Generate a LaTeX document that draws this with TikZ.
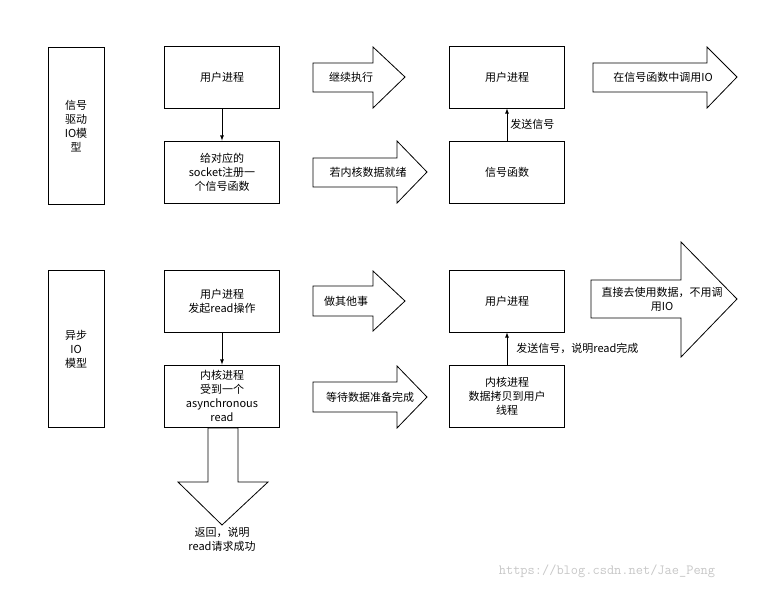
\documentclass[tikz,border=0pt]{standalone}
\usepackage{fontspec}
\setmainfont{Noto Sans CJK SC}
\begin{document}
\begin{tikzpicture}[x=1pt,y=-1pt,
  box/.style={draw,thick,minimum width=115pt,minimum height=62pt,align=center,inner sep=1pt,font=\fontsize{11}{14}\selectfont},
  side/.style={draw,thick,minimum width=56pt,minimum height=157pt,align=center,font=\fontsize{11}{14}\selectfont},
  ba/.style={draw,thick,fill=white},
  lbl/.style={align=center,font=\fontsize{11}{14}\selectfont,inner sep=1pt},
  con/.style={thick,-latex}]
\useasboundingbox (0,0) rectangle (769,590);
% top row
\node[side] (s1) at (76,126) {信号\\驱动\\IO模\\型};
\node[box] (u1) at (222,77) {用户进程};
\node[box] (g1) at (222,172) {给对应的\\socket注册一\\个信号函数};
\node[box] (u2) at (507,77) {用户进程};
\node[box] (x1) at (507,172) {信号函数};
\draw[con] (u1) -- (g1);
\draw[con] (x1) -- node[lbl,right,anchor=west,xshift=2pt] {发送信号} (u2);
\draw[ba] (313,63) -- (373,63) -- (373,47) -- (405,77) -- (373,108) -- (373,92) -- (313,92) -- cycle;
\node[lbl] (a1) at (351,77) {继续执行};
\draw[ba] (313,158) -- (397,158) -- (397,141) -- (427,172) -- (397,203) -- (397,187) -- (313,187) -- cycle;
\node[lbl] (a2) at (368,172) {若内核数据就绪};
\draw[ba] (593,63) -- (707,63) -- (707,47) -- (737,77) -- (707,108) -- (707,92) -- (593,92) -- cycle;
\node[lbl] (a3) at (663,77) {在信号函数中调用IO};
% bottom row
\node[side] (s2) at (76,349) {异步\\IO\\模型};
\node[box] (u3) at (222,301) {用户进程\\发起read操作};
\node[box] (k1) at (222,396) {内核进程\\受到一个\\asynchronous\\read};
\node[box] (u4) at (507,301) {用户进程};
\node[box] (k2) at (507,396) {内核进程\\数据拷贝到用户\\线程};
\draw[con] (u3) -- (k1);
\draw[con] (k2) -- node[lbl,right,anchor=west,xshift=8pt] {发送信号，说明read完成} (u4);
\draw[ba] (313,286) -- (373,286) -- (373,271) -- (405,301) -- (373,331) -- (373,316) -- (313,316) -- cycle;
\node[lbl] (a4) at (346,301) {做其他事};
\draw[ba] (313,382) -- (397,382) -- (397,366) -- (427,397) -- (397,428) -- (397,412) -- (313,412) -- cycle;
\node[lbl] (a5) at (370,397) {等待数据准备完成};
\draw[ba] (591,280) -- (681,280) -- (681,242) -- (737,299) -- (681,357) -- (681,318) -- (591,318) -- cycle;
\node[lbl] (a6) at (662,299) {直接去使用数据，不用调\\用IO};
\draw[ba] (208,428) -- (238,428) -- (238,482) -- (268,482) -- (222,525) -- (178,482) -- (208,482) -- cycle;
\node[lbl] (a7) at (222,539) {返回，说明\\read请求成功};
\node[font=\fontsize{14}{16}\selectfont\ttfamily,text=black!22] (wm) at (607,571) {https://blog.csdn.net/Jae\_Peng};
\end{tikzpicture}
\end{document}
